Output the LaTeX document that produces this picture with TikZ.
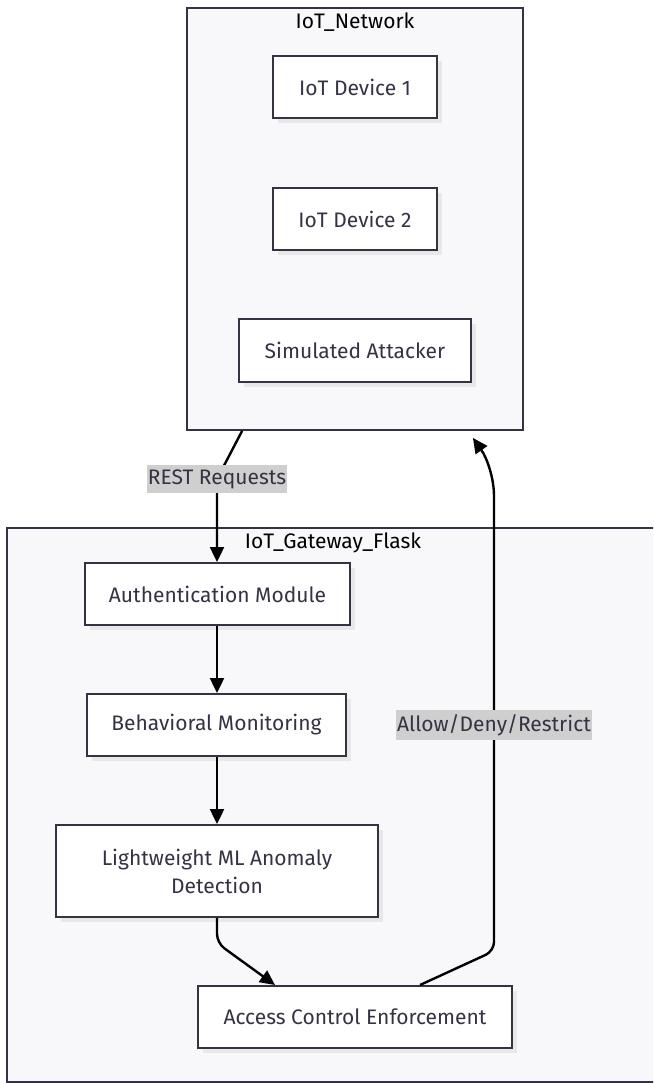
\documentclass[tikz,border=0pt]{standalone}
\usepackage{fontspec}
\setmainfont{Fira Sans}
\usetikzlibrary{arrows.meta,calc,shadows}
\definecolor{ink}{HTML}{333344}
\definecolor{clfill}{HTML}{F8F8FA}
\definecolor{lblbg}{HTML}{CFCFCF}
\begin{document}
\begin{tikzpicture}[x=1pt,y=-1pt,
  font=\fontsize{21}{28}\selectfont,
  box/.style={draw=ink,line width=2pt,fill=white,text=ink,align=center,inner sep=0pt,
    drop shadow={shadow xshift=5pt,shadow yshift=-5pt,fill=black!9,opacity=1}},
  cluster/.style={draw=ink,line width=1.8pt,fill=clfill,inner sep=0pt},
  ctitle/.style={text=black,inner sep=0pt},
  edge/.style={draw=black,line width=2.4pt,-{Triangle[length=15pt,width=14pt]}},
  lbl/.style={fill=lblbg,text=ink,inner xsep=1pt,inner ysep=4pt}]
\useasboundingbox (0,0) rectangle (653,1083);
\clip (0,0) rectangle (653,1083);
% clusters
\node[cluster,minimum width=336pt,minimum height=422pt] (net) at (355,219) {};
\node[ctitle] (nett) at (355,22) {IoT\_Network};
\node[cluster,minimum width=652pt,minimum height=554pt] (gw) at (333,805) {};
\node[ctitle] (gwt) at (333,543) {IoT\_Gateway\_Flask};
% network nodes
\node[box,minimum width=164pt,minimum height=62pt] (d1) at (355,87) {IoT Device 1};
\node[box,minimum width=164pt,minimum height=62pt] (d2) at (355,219) {IoT Device 2};
\node[box,minimum width=232pt,minimum height=63pt] (att) at (355,350.5) {Simulated Attacker};
% gateway nodes
\node[box,minimum width=265pt,minimum height=62pt] (auth) at (217.5,594) {Authentication Module};
\node[box,minimum width=259pt,minimum height=62pt] (beh) at (216.5,725) {Behavioral Monitoring};
\node[box,minimum width=322pt,minimum height=92pt] (ml) at (217,871) {Lightweight ML Anomaly\\Detection};
\node[box,minimum width=314pt,minimum height=62pt] (acc) at (355,1017) {Access Control Enforcement};
% edges
\coordinate (restbend) at (217,479);
\draw[edge] ($(net.south west)+(56,0)$) -- (restbend) -- (restbend |- auth.north);
\node[lbl] (restl) at (restbend) {REST Requests};
\draw[edge] (auth.south -| 217,0) -- (beh.north -| 217,0);
\draw[edge] (beh.south -| 217,0) -- (ml.north -| 217,0);
\draw[edge,rounded corners=9pt] (ml.south) -- (217,943) -- ($(acc.north west)+(78,0)$);
\draw[edge,rounded corners=9pt] ($(acc.north west)+(223,0)$) -- (494,951) -- (494,505)
  .. controls (494,478) and (487,458) .. ($(net.south east)+(-51,7)$);
\node[lbl] (allowl) at (494,725) {Allow/Deny/Restrict};
\end{tikzpicture}
\end{document}
